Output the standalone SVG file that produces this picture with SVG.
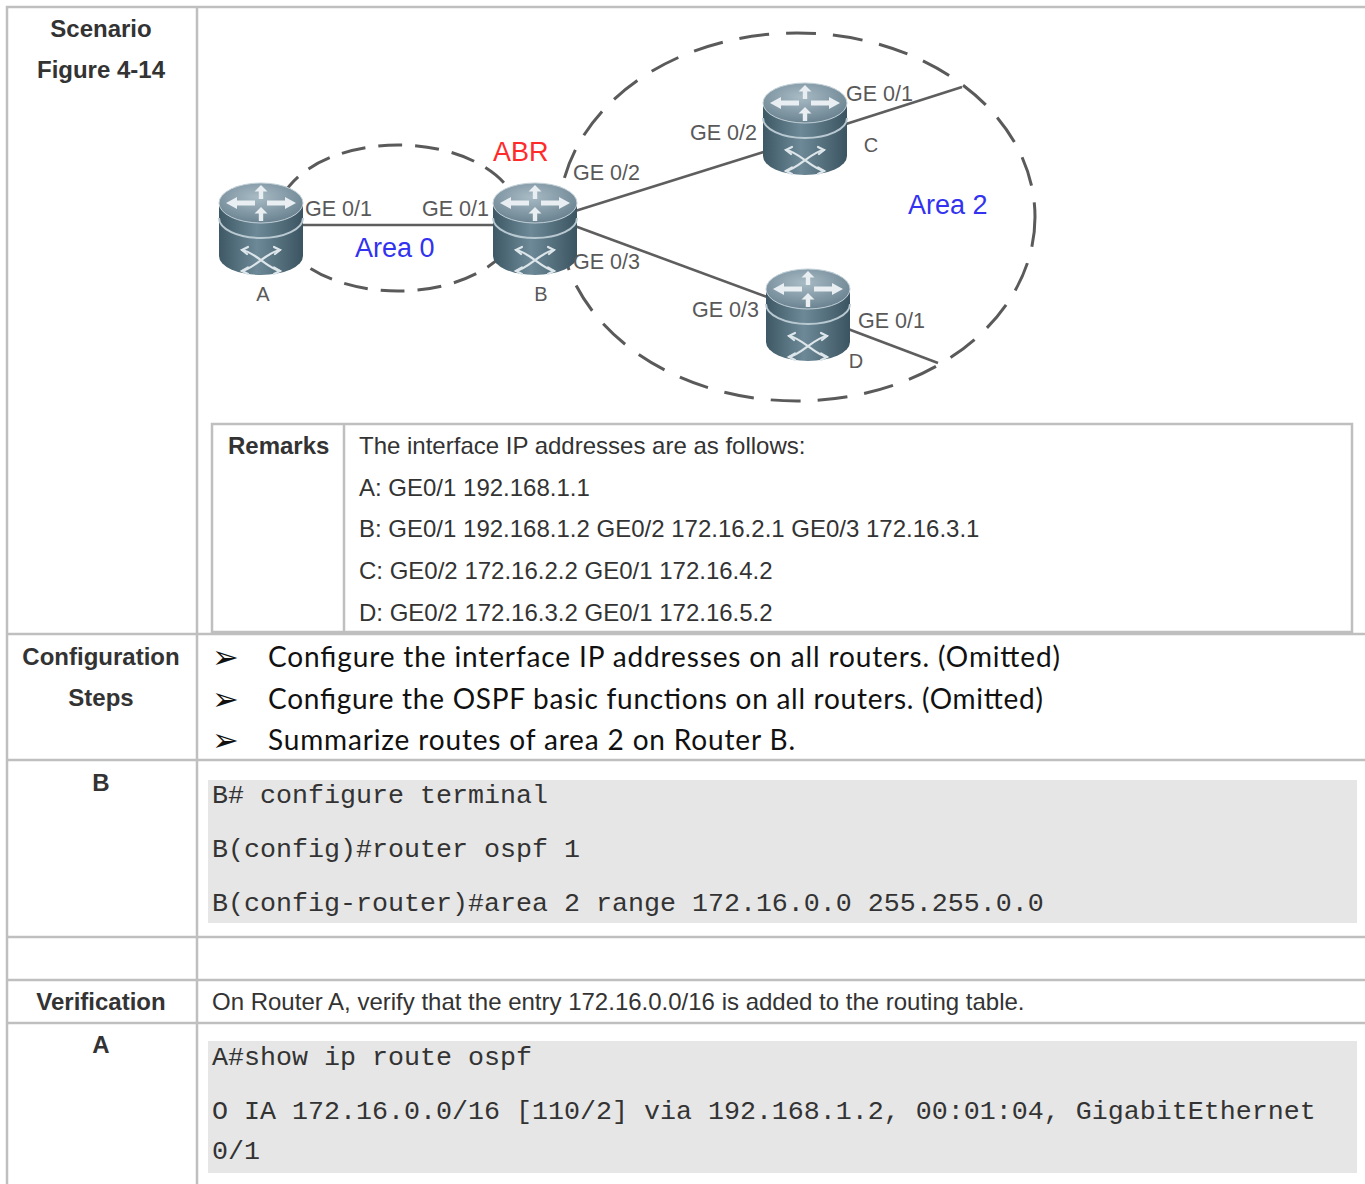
<svg xmlns="http://www.w3.org/2000/svg" xmlns:xlink="http://www.w3.org/1999/xlink" width="1365" height="1184" viewBox="0 0 1365 1184">
<style>
.grid{stroke:#bfbfbf;stroke-width:2.5;fill:none}
.lbl{font-family:"Liberation Sans",Arial,sans-serif;font-size:24px;fill:#333}
.b{font-weight:bold}
.mid{text-anchor:middle}
.code{font-family:"Liberation Mono","Courier New",monospace;font-size:26.67px;fill:#333}
.step{font-family:Lato,"Open Sans",sans-serif;font-size:28px;fill:#111}
.bul{font-family:"DejaVu Sans",sans-serif;font-size:32px;fill:#111}
.ge{font-family:"Liberation Sans",Arial,sans-serif;font-size:21.5px;fill:#595959}
.rn{font-family:"Liberation Sans",Arial,sans-serif;font-size:20px;fill:#595959;text-anchor:middle}
.area{font-family:"Liberation Sans",Arial,sans-serif;font-size:27px;fill:#3232f0}
.link{stroke:#5e5e5e;stroke-width:2.6;fill:none}
.dash0{stroke:#5a5a5a;stroke-width:3;fill:none;stroke-dasharray:24 13}
.dash2{stroke:#5a5a5a;stroke-width:3;fill:none;stroke-dasharray:30 17}
</style>
<defs>
<linearGradient id="bodyG" x1="0" y1="0" x2="1" y2="0">
<stop offset="0" stop-color="#3e5865"/>
<stop offset="0.45" stop-color="#6d8997"/>
<stop offset="1" stop-color="#3b5461"/>
</linearGradient>
<radialGradient id="topG" cx="0.45" cy="0.35" r="0.7">
<stop offset="0" stop-color="#a8bbc5"/>
<stop offset="1" stop-color="#667f8d"/>
</radialGradient>
<g id="router">
<path d="M-42,-26 L-42,27 A42,19 0 0 0 42,27 L42,-26 Z" fill="url(#bodyG)"/>
<path d="M-42,-11 A42,20 0 0 0 42,-11" fill="none" stroke="#b9c9d1" stroke-width="2"/>
<ellipse cx="0" cy="-26" rx="42" ry="20" fill="url(#topG)" stroke="#c2d0d7" stroke-width="1"/>
<g fill="#e8eef1">
<polygon points="-35,-26 -24,-32 -24,-28.5 -6,-28.5 -6,-23.5 -24,-23.5 -24,-20"/>
<polygon points="35,-26 24,-32 24,-28.5 6,-28.5 6,-23.5 24,-23.5 24,-20"/>
<polygon points="0,-44 6.5,-37.5 2.2,-37.5 2.2,-30 -2.2,-30 -2.2,-37.5 -6.5,-37.5"/>
<polygon points="0,-22 6.5,-15.5 2.2,-15.5 2.2,-8 -2.2,-8 -2.2,-15.5 -6.5,-15.5"/>
</g>
<g fill="none" stroke="#dde6ea" stroke-width="2.2" stroke-linecap="round">
<path d="M-19,21 C-6,23 6,39 19,42"/>
<path d="M-19,42 C-6,39 6,23 19,21"/>
<path d="M-13,18 L-19,21 L-14,25"/>
<path d="M13,18 L19,21 L14,25"/>
<path d="M-13,38.5 L-19,42 L-13,45"/>
<path d="M13,38.5 L19,42 L13,45"/>
</g>
</g>
</defs>
<rect width="1365" height="1184" fill="#ffffff"/>

<g id="table-grid">
<line class="grid" x1="6" y1="7" x2="1365" y2="7"/>
<line class="grid" x1="6" y1="634" x2="1365" y2="634"/>
<line class="grid" x1="6" y1="760" x2="1365" y2="760"/>
<line class="grid" x1="6" y1="937" x2="1365" y2="937"/>
<line class="grid" x1="6" y1="980" x2="1365" y2="980"/>
<line class="grid" x1="6" y1="1023" x2="1365" y2="1023"/>
<line class="grid" x1="7" y1="6" x2="7" y2="1184"/>
<line class="grid" x1="197" y1="7" x2="197" y2="1184"/>
<rect class="grid" x="212" y="424" width="1140" height="208"/>
<line class="grid" x1="344" y1="424" x2="344" y2="632"/>
<rect x="208" y="780" width="1149" height="143" fill="#e6e6e6"/>
<rect x="208" y="1041" width="1149" height="132" fill="#e6e6e6"/>
</g>

<g id="row-labels">
<text class="lbl b mid" x="101" y="37">Scenario</text>
<text class="lbl b mid" x="101" y="78">Figure 4-14</text>
<text class="lbl b mid" x="101" y="665">Configuration</text>
<text class="lbl b mid" x="101" y="706">Steps</text>
<text class="lbl b mid" x="101" y="791">B</text>
<text class="lbl b mid" x="101" y="1010">Verification</text>
<text class="lbl b mid" x="101" y="1053">A</text>
</g>

<g id="remarks">
<text class="lbl b" x="228" y="454">Remarks</text>
<text class="lbl" x="359" y="454">The interface IP addresses are as follows:</text>
<text class="lbl" x="359" y="496">A: GE0/1 192.168.1.1</text>
<text class="lbl" x="359" y="537">B: GE0/1 192.168.1.2 GE0/2 172.16.2.1 GE0/3 172.16.3.1</text>
<text class="lbl" x="359" y="579">C: GE0/2 172.16.2.2 GE0/1 172.16.4.2</text>
<text class="lbl" x="359" y="621">D: GE0/2 172.16.3.2 GE0/1 172.16.5.2</text>
</g>

<g id="steps">
<text class="bul" x="212" y="668">➢</text>
<text class="step" x="268" y="667" textLength="792">Configure the interface IP addresses on all routers. (Omitted)</text>
<text class="bul" x="212" y="710">➢</text>
<text class="step" x="268" y="709" textLength="775">Configure the OSPF basic functions on all routers. (Omitted)</text>
<text class="bul" x="212" y="751">➢</text>
<text class="step" x="268" y="750" textLength="527">Summarize routes of area 2 on Router B.</text>
</g>

<g id="code-b">
<text class="code" x="212" y="803">B# configure terminal</text>
<text class="code" x="212" y="857">B(config)#router ospf 1</text>
<text class="code" x="212" y="911">B(config-router)#area 2 range 172.16.0.0 255.255.0.0</text>
</g>

<g id="verification">
<text class="lbl" x="212" y="1010">On Router A, verify that the entry 172.16.0.0/16 is added to the routing table.</text>
</g>

<g id="code-a">
<text class="code" x="212" y="1065">A#show ip route ospf</text>
<text class="code" x="212" y="1119">O IA 172.16.0.0/16 [110/2] via 192.168.1.2, 00:01:04, GigabitEthernet</text>
<text class="code" x="212" y="1159">0/1</text>
</g>

<g id="areas">
<ellipse class="dash0" cx="398" cy="218" rx="121" ry="73"/>
<ellipse class="dash2" cx="797" cy="217" rx="238" ry="184"/>
<text class="area" x="355" y="257">Area 0</text>
<text class="area" x="908" y="214">Area 2</text>
</g>

<g id="connectors">
<line class="link" x1="300" y1="225" x2="496" y2="225"/>
<line class="link" x1="572" y1="212" x2="767" y2="151"/>
<line class="link" x1="572" y1="225" x2="770" y2="298"/>
<line class="link" x1="846" y1="124" x2="962" y2="87"/>
<line class="link" x1="848" y1="329" x2="938" y2="363"/>
</g>

<g id="node-A">
<use xlink:href="#router" href="#router" transform="translate(261,229)"/>
<text class="rn" x="263" y="301">A</text>
<text class="ge" x="305" y="216">GE 0/1</text>
</g>
<g id="node-B">
<use xlink:href="#router" href="#router" transform="translate(535,229)"/>
<text class="rn" x="541" y="301">B</text>
<text class="ge" x="422" y="216">GE 0/1</text>
<text class="ge" x="573" y="180">GE 0/2</text>
<text class="ge" x="573" y="269">GE 0/3</text>
<text x="493" y="161" style="font-family:'Liberation Sans',Arial,sans-serif;font-size:27px;fill:#ff2b2b">ABR</text>
</g>
<g id="node-C">
<use xlink:href="#router" href="#router" transform="translate(805,129)"/>
<text class="rn" x="871" y="152">C</text>
<text class="ge" x="690" y="140">GE 0/2</text>
<text class="ge" x="846" y="101">GE 0/1</text>
</g>
<g id="node-D">
<use xlink:href="#router" href="#router" transform="translate(808,315)"/>
<text class="rn" x="856" y="368">D</text>
<text class="ge" x="692" y="317">GE 0/3</text>
<text class="ge" x="858" y="328">GE 0/1</text>
</g>
</svg>
